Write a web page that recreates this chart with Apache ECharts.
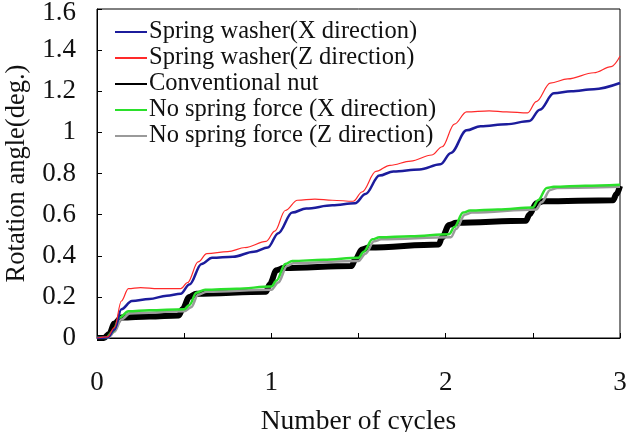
<!DOCTYPE html>
<html>
<head>
<meta charset="utf-8">
<script src="https://cdn.jsdelivr.net/npm/echarts@6/dist/echarts.min.js"></script>
<style>
  html, body { margin: 0; padding: 0; background: #fff; }
  #main { width: 629px; height: 432px; }
</style>
</head>
<body>
<div id="main"></div>
<script>
// data (x = cycles, y = rotation angle in deg.)
var washerXx = [0, 0.06, 0.1, 0.14, 0.2, 0.3, 0.4, 0.48, 0.53, 0.6, 0.66, 0.78, 0.9, 0.98, 1.04, 1.12, 1.2, 1.35, 1.48, 1.54, 1.62, 1.7, 1.85, 1.97, 2.03, 2.12, 2.2, 2.35, 2.48, 2.54, 2.62, 2.72, 2.85, 3.0];
var washerXy = [0, 0.003, 0.04, 0.14, 0.18, 0.19, 0.205, 0.215, 0.26, 0.36, 0.39, 0.395, 0.42, 0.44, 0.51, 0.61, 0.63, 0.645, 0.655, 0.7, 0.79, 0.81, 0.82, 0.845, 0.9, 1.01, 1.03, 1.04, 1.055, 1.11, 1.19, 1.2, 1.21, 1.24];

var washerZx = [0, 0.06, 0.1, 0.14, 0.18, 0.25, 0.35, 0.48, 0.52, 0.58, 0.63, 0.75, 0.85, 0.97, 1.02, 1.08, 1.15, 1.25, 1.35, 1.47, 1.52, 1.6, 1.68, 1.8, 1.92, 1.98, 2.05, 2.12, 2.25, 2.35, 2.47, 2.52, 2.6, 2.7, 2.85, 2.95, 3.0];
var washerZy = [0, 0.005, 0.05, 0.18, 0.24, 0.245, 0.24, 0.24, 0.27, 0.37, 0.41, 0.42, 0.44, 0.47, 0.52, 0.62, 0.67, 0.675, 0.67, 0.665, 0.71, 0.81, 0.84, 0.86, 0.89, 0.93, 1.04, 1.1, 1.105, 1.1, 1.095, 1.15, 1.24, 1.26, 1.29, 1.32, 1.37];

var nutX = [0, 0.04, 0.07, 0.1, 0.14, 0.3, 0.47, 0.49, 0.53, 0.57, 0.97, 0.99, 1.03, 1.07, 1.46, 1.48, 1.52, 1.56, 1.96, 1.98, 2.02, 2.06, 2.46, 2.48, 2.52, 2.56, 2.96, 2.98, 3.0];
var nutY = [0, 0, 0.02, 0.07, 0.1, 0.105, 0.11, 0.14, 0.2, 0.215, 0.225, 0.26, 0.33, 0.34, 0.35, 0.38, 0.43, 0.44, 0.455, 0.49, 0.55, 0.56, 0.57, 0.6, 0.655, 0.665, 0.67, 0.7, 0.74];

var noSpringXx = [0, 0.05, 0.09, 0.13, 0.18, 0.3, 0.5, 0.53, 0.57, 0.62, 0.8, 1.0, 1.03, 1.08, 1.12, 1.3, 1.5, 1.53, 1.58, 1.62, 1.8, 2.02, 2.05, 2.1, 2.14, 2.3, 2.5, 2.53, 2.58, 2.62, 2.8, 3.0];
var noSpringXy = [0, 0, 0.03, 0.1, 0.13, 0.135, 0.14, 0.16, 0.22, 0.235, 0.24, 0.25, 0.28, 0.36, 0.375, 0.38, 0.39, 0.42, 0.48, 0.49, 0.495, 0.505, 0.54, 0.61, 0.62, 0.625, 0.635, 0.67, 0.73, 0.735, 0.74, 0.745];

var noSpringZx = [0, 0.06, 0.1, 0.14, 0.19, 0.5, 0.54, 0.58, 0.63, 1.0, 1.04, 1.09, 1.13, 1.5, 1.54, 1.59, 1.63, 2.03, 2.06, 2.11, 2.15, 2.52, 2.55, 2.6, 2.64, 3.0];
var noSpringZy = [0, 0, 0.03, 0.09, 0.12, 0.13, 0.15, 0.21, 0.225, 0.235, 0.27, 0.35, 0.365, 0.375, 0.41, 0.47, 0.48, 0.49, 0.53, 0.6, 0.61, 0.625, 0.66, 0.72, 0.73, 0.735];

var xTicks = [0, 1, 2, 3];
var yTicks = [0, 0.2, 0.4, 0.6, 0.8, 1, 1.2, 1.4, 1.6];

function pairs(xs, ys) {
  return xs.map(function (x, i) { return [x, ys[i]]; });
}

var font = '"Liberation Serif", "DejaVu Serif", serif';

function line(name, xs, ys, color, width, z) {
  return {
    name: name,
    type: 'line',
    data: pairs(xs, ys),
    smooth: 0.35,
    smoothMonotone: 'x',
    symbol: 'none',
    z: z,
    lineStyle: { color: color, width: width },
    itemStyle: { color: color }
  };
}

var chart = echarts.init(document.getElementById('main'));
chart.setOption({
  animation: false,
  backgroundColor: '#fff',
  grid: {
    left: 97, right: 9, top: 9, bottom: 94,
    outerBoundsMode: 'none',
    containLabel: false,
    show: true, borderColor: '#000', borderWidth: 1
  },
  legend: {
    orient: 'vertical',
    left: 114, top: 19,
    padding: 0,
    itemGap: 0,
    itemWidth: 32, itemHeight: 14,
    itemStyle: { opacity: 0 },
    data: ['Spring washer(X direction)', 'Spring washer(Z direction)', 'Conventional nut',
           'No spring force (X direction)', 'No spring force (Z direction)'],
    textStyle: { fontFamily: font, fontSize: 24.5, lineHeight: 26, color: '#111', padding: [0, 0, 0, -3] }
  },
  xAxis: {
    type: 'value',
    min: 0, max: 3, interval: 0.5,
    name: 'Number of cycles',
    nameLocation: 'middle',
    nameGap: 70,
    nameTextStyle: { fontFamily: font, fontSize: 27.5, color: '#111' },
    axisLine: { lineStyle: { color: '#000', width: 1 } },
    axisTick: { inside: true, length: 5, lineStyle: { color: '#000' } },
    splitLine: { show: false },
    axisLabel: {
      margin: 31,
      fontFamily: font, fontSize: 27, color: '#111',
      formatter: function (v) { return xTicks.indexOf(v) >= 0 ? String(v) : ''; }
    }
  },
  yAxis: {
    type: 'value',
    min: 0, max: 1.6, interval: 0.2,
    name: 'Rotation angle(deg.)',
    nameLocation: 'middle',
    nameGap: 66,
    nameTextStyle: { fontFamily: font, fontSize: 26.5, color: '#111' },
    axisLine: { show: true, lineStyle: { color: '#000', width: 1 } },
    axisTick: { show: true, inside: true, length: 5, lineStyle: { color: '#000' } },
    splitLine: { show: false },
    axisLabel: {
      margin: 21,
      fontFamily: font, fontSize: 27, color: '#111',
      formatter: function (v) {
        var t = yTicks.filter(function (k) { return Math.abs(k - v) < 1e-6; })[0];
        if (t === undefined) return '';
        return t === 1.6 ? '{top|1.6}' : String(t);
      },
      rich: {
        top: { fontFamily: font, fontSize: 27, color: '#111', padding: [8, 0, 0, 0] }
      }
    }
  },
  series: [
    line('Spring washer(X direction)', washerXx, washerXy, '#1c1c9c', 2.5, 5),
    line('Spring washer(Z direction)', washerZx, washerZy, '#ff2a2a', 1.2, 6),
    line('Conventional nut', nutX, nutY, '#000000', 6, 2),
    line('No spring force (X direction)', noSpringXx, noSpringXy, '#2be02b', 2.5, 4),
    line('No spring force (Z direction)', noSpringZx, noSpringZy, '#9a9a9a', 2.5, 3)
  ]
});
</script>
</body>
</html>
